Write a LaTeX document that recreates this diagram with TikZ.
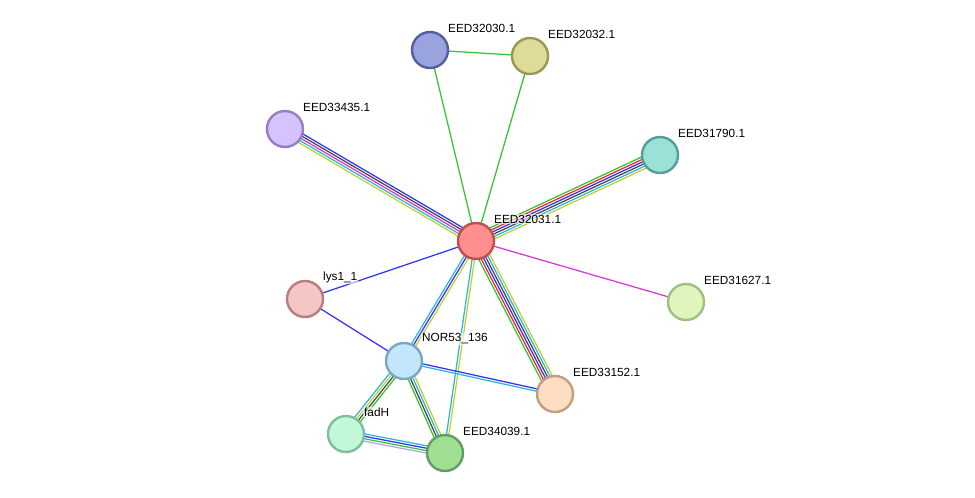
\documentclass[tikz,border=0pt]{standalone}
\usepackage{fontspec}
\setmainfont{Liberation Sans}
\usetikzlibrary{calc,backgrounds}
\definecolor{egreen}{HTML}{33C433}
\definecolor{ered}{HTML}{F02828}
\definecolor{eblue}{HTML}{3333F5}
\definecolor{edark}{HTML}{484848}
\definecolor{ecyan}{HTML}{2EB4DC}
\definecolor{eyg}{HTML}{BCD234}
\definecolor{emag}{HTML}{D835D8}
\definecolor{elav}{HTML}{A8A8F0}
\tikzset{
  prot/.style={circle, minimum size=36pt, inner sep=0pt, line width=2.4pt},
  lbl/.style={anchor=west, font=\fontsize{11.8}{14}\selectfont, inner sep=1pt, fill=white, fill opacity=0.6, text opacity=1},
  edge/.style={line width=1.25pt}
}
\newcommand{\medge}[3]{%
  \foreach \col [count=\i] in {#3} {\xdef\nlines{\i}}%
  \foreach \col [count=\i] in {#3} {%
    \pgfmathsetmacro{\off}{(\i-(\nlines+1)/2)*2.4}%
    \draw[\col, edge] ($(#1)!\off pt!90:(#2)$) -- ($(#2)!\off pt!-90:(#1)$);
  }}
\begin{document}
\begin{tikzpicture}[x=1pt,y=-1pt]
\useasboundingbox (0,0) rectangle (975,498);
% nodes
\node[prot, fill={rgb,255:red,255;green,142;blue,142}, draw={rgb,255:red,192;green,80;blue,80}] (c) at (476,241) {};
\node[prot, fill={rgb,255:red,153;green,163;blue,222}, draw={rgb,255:red,84;green,94;blue,158}] (n30) at (430,50) {};
\node[prot, fill={rgb,255:red,222;green,220;blue,150}, draw={rgb,255:red,154;green,152;blue,84}] (n32) at (530,56) {};
\node[prot, fill={rgb,255:red,214;green,194;blue,255}, draw={rgb,255:red,150;green,126;blue,192}] (n35) at (285,129) {};
\node[prot, fill={rgb,255:red,154;green,226;blue,216}, draw={rgb,255:red,84;green,158;blue,150}] (n90) at (660,155) {};
\node[prot, fill={rgb,255:red,246;green,198;blue,198}, draw={rgb,255:red,184;green,126;blue,126}] (lys) at (305,299) {};
\node[prot, fill={rgb,255:red,222;green,245;blue,190}, draw={rgb,255:red,160;green,192;blue,126}] (n27) at (686,302) {};
\node[prot, fill={rgb,255:red,194;green,230;blue,250}, draw={rgb,255:red,126;green,166;blue,192}] (nor) at (404,361) {};
\node[prot, fill={rgb,255:red,253;green,222;blue,192}, draw={rgb,255:red,192;green,158;blue,126}] (n52) at (555,394) {};
\node[prot, fill={rgb,255:red,194;green,248;blue,218}, draw={rgb,255:red,126;green,190;blue,158}] (fad) at (346,434) {};
\node[prot, fill={rgb,255:red,160;green,222;blue,146}, draw={rgb,255:red,94;green,158;blue,94}] (n39) at (445,453) {};
% edges
\begin{scope}[on background layer]
\medge{n30}{n32}{egreen}
\medge{n30}{c}{egreen}
\medge{n32}{c}{egreen}
\medge{n35}{c}{eyg,ecyan,emag,edark,eblue}
\medge{c}{n90}{eyg,ecyan,edark,eblue,ered,egreen}
\medge{c}{n27}{emag}
\medge{lys}{c}{eblue}
\medge{lys}{nor}{eblue}
\medge{c}{n52}{egreen,ered,eblue,edark,ecyan,eyg}
\medge{nor}{c}{eyg,eblue,ecyan}
\medge{n39}{c}{eyg,ecyan}
\medge{nor}{n52}{ecyan,eblue}
\medge{nor}{fad}{ecyan,eyg,edark,egreen}
\medge{nor}{n39}{egreen,edark,ecyan,eyg}
\medge{fad}{n39}{elav,egreen,eblue,ecyan}
\end{scope}
% labels
\node[lbl] (l30) at ($(n30)+(17,-22)$) {EED32030.1};
\node[lbl] (l32) at ($(n32)+(17,-22)$) {EED32032.1};
\node[lbl] (l35) at ($(n35)+(17,-22)$) {EED33435.1};
\node[lbl] (l90) at ($(n90)+(17,-22)$) {EED31790.1};
\node[lbl] (lc) at ($(c)+(17,-22)$) {EED32031.1};
\node[lbl] (llys) at ($(lys)+(17,-22)$) {lys1\_1};
\node[lbl] (l27) at ($(n27)+(17,-22)$) {EED31627.1};
\node[lbl] (lnor) at ($(nor)+(17,-22)$) {NOR53\_136};
\node[lbl] (l52) at ($(n52)+(17,-22)$) {EED33152.1};
\node[lbl] (lfad) at ($(fad)+(17,-22)$) {fadH};
\node[lbl] (l39) at ($(n39)+(17,-22)$) {EED34039.1};
\end{tikzpicture}
\end{document}
